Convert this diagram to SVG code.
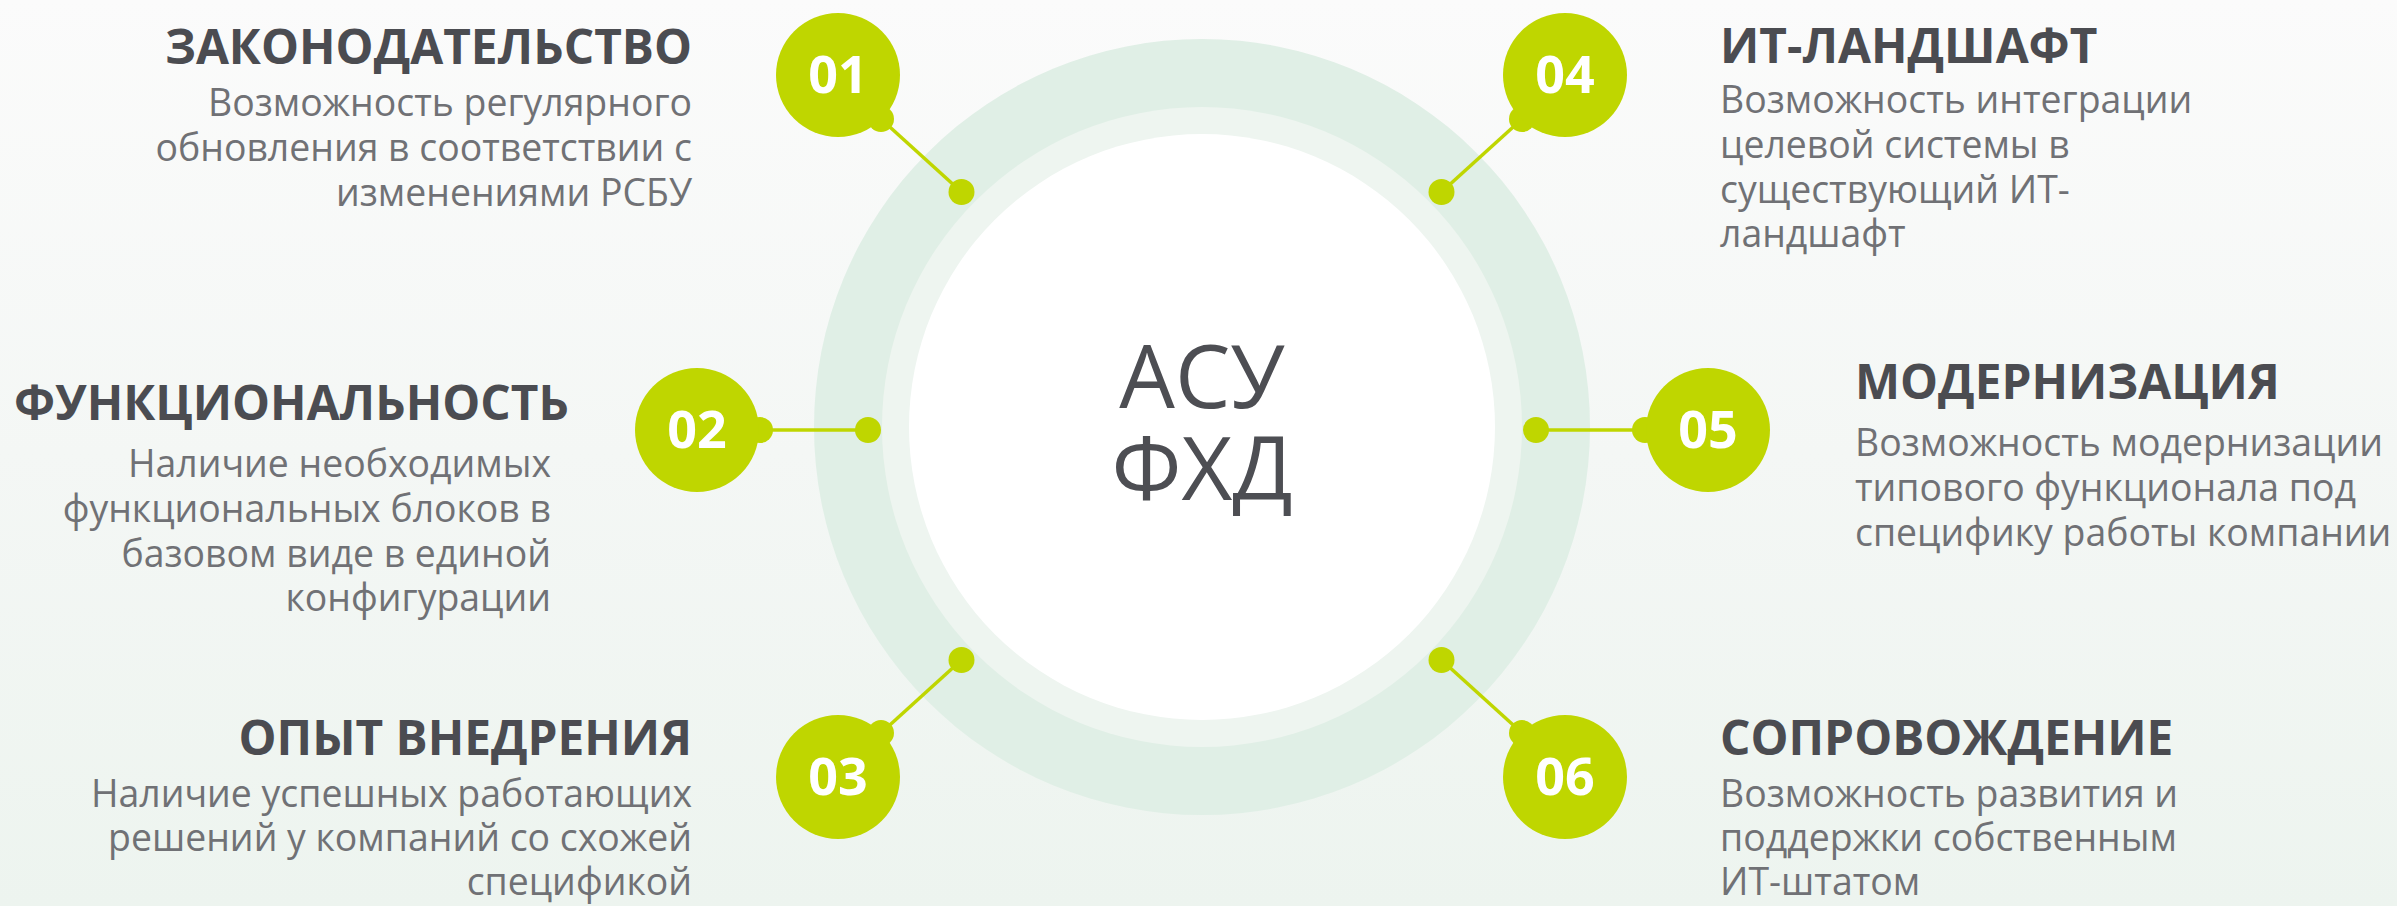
<svg xmlns="http://www.w3.org/2000/svg" width="2397" height="906" viewBox="0 0 2397 906">
  <defs>
    <linearGradient id="bg" x1="0" y1="0" x2="0" y2="1">
      <stop offset="0" stop-color="#fbfbfb"/>
      <stop offset="0.5" stop-color="#f4f7f5"/>
      <stop offset="1" stop-color="#edf4ef"/>
    </linearGradient>
    <style>
      .title { font-family: "Open Sans", "Noto Sans", "DejaVu Sans", sans-serif; font-weight: 700; font-size: 47.8px; fill: #4b4c51; }
      .body { font-family: "Open Sans", "Noto Sans", "DejaVu Sans", sans-serif; font-weight: 400; font-size: 37.4px; fill: #707175; }
      .num { font-family: "Open Sans", "Noto Sans", "DejaVu Sans", sans-serif; font-weight: 700; font-size: 52px; fill: #ffffff; text-anchor: middle; }
      .center { font-family: "Open Sans", "Noto Sans", "DejaVu Sans", sans-serif; font-weight: 400; font-size: 88px; fill: #4d4e53; text-anchor: middle; }
      .badge { fill: #bfd600; }
      .dot { fill: #bfd600; }
      .link { stroke: #bfd600; stroke-width: 3.5; fill: none; }
      .r { text-anchor: end; }
      .l { text-anchor: start; }
    </style>
  </defs>

  <rect x="0" y="0" width="2397" height="906" fill="url(#bg)"/>

  <g id="hub">
    <circle cx="1202" cy="427" r="388" fill="#e0efe6"/>
    <circle cx="1202" cy="427" r="320" fill="#eef5f0"/>
    <circle cx="1202" cy="427" r="293" fill="#ffffff"/>
    <text class="center" x="1202" y="408">АСУ</text>
    <text class="center" x="1202" y="500">ФХД</text>
  </g>

  <g id="connectors">
    <line class="link" x1="881" y1="119" x2="961.5" y2="192"/>
    <circle class="dot" cx="881" cy="119" r="13"/>
    <circle class="dot" cx="961.5" cy="192" r="13"/>

    <line class="link" x1="760" y1="430" x2="868" y2="430"/>
    <circle class="dot" cx="760" cy="430" r="13"/>
    <circle class="dot" cx="868" cy="430" r="13"/>

    <line class="link" x1="881" y1="733" x2="961.5" y2="660"/>
    <circle class="dot" cx="881" cy="733" r="13"/>
    <circle class="dot" cx="961.5" cy="660" r="13"/>

    <line class="link" x1="1522" y1="119" x2="1441.5" y2="192"/>
    <circle class="dot" cx="1522" cy="119" r="13"/>
    <circle class="dot" cx="1441.5" cy="192" r="13"/>

    <line class="link" x1="1645" y1="430" x2="1536" y2="430"/>
    <circle class="dot" cx="1645" cy="430" r="13"/>
    <circle class="dot" cx="1536" cy="430" r="13"/>

    <line class="link" x1="1522" y1="733" x2="1441.5" y2="660"/>
    <circle class="dot" cx="1522" cy="733" r="13"/>
    <circle class="dot" cx="1441.5" cy="660" r="13"/>
  </g>

  <g id="item-01">
    <circle class="badge" cx="838" cy="75" r="62"/>
    <text class="num" x="838" y="93">01</text>
    <text class="title r" x="692" y="64">ЗАКОНОДАТЕЛЬСТВО</text>
    <text class="body r" x="692" y="116">Возможность регулярного</text>
    <text class="body r" x="692" y="161">обновления в соответствии с</text>
    <text class="body r" x="692" y="206">изменениями РСБУ</text>
  </g>

  <g id="item-02">
    <circle class="badge" cx="697" cy="430" r="62"/>
    <text class="num" x="697" y="448">02</text>
    <text class="title r" x="569" y="420">ФУНКЦИОНАЛЬНОСТЬ</text>
    <text class="body r" x="551" y="477">Наличие необходимых</text>
    <text class="body r" x="551" y="522">функциональных блоков в</text>
    <text class="body r" x="551" y="567">базовом виде в единой</text>
    <text class="body r" x="551" y="611">конфигурации</text>
  </g>

  <g id="item-03">
    <circle class="badge" cx="838" cy="777" r="62"/>
    <text class="num" x="838" y="795">03</text>
    <text class="title r" x="692" y="755">ОПЫТ ВНЕДРЕНИЯ</text>
    <text class="body r" x="692" y="807">Наличие успешных работающих</text>
    <text class="body r" x="692" y="851">решений у компаний со схожей</text>
    <text class="body r" x="692" y="895">спецификой</text>
  </g>

  <g id="item-04">
    <circle class="badge" cx="1565" cy="75" r="62"/>
    <text class="num" x="1565" y="93">04</text>
    <text class="title l" x="1720" y="63">ИТ-ЛАНДШАФТ</text>
    <text class="body l" x="1720" y="113">Возможность интеграции</text>
    <text class="body l" x="1720" y="158">целевой системы в</text>
    <text class="body l" x="1720" y="203">существующий ИТ-</text>
    <text class="body l" x="1720" y="247">ландшафт</text>
  </g>

  <g id="item-05">
    <circle class="badge" cx="1708" cy="430" r="62"/>
    <text class="num" x="1708" y="448">05</text>
    <text class="title l" x="1855" y="399">МОДЕРНИЗАЦИЯ</text>
    <text class="body l" x="1855" y="456">Возможность модернизации</text>
    <text class="body l" x="1855" y="501">типового функционала под</text>
    <text class="body l" x="1855" y="546">специфику работы компании</text>
  </g>

  <g id="item-06">
    <circle class="badge" cx="1565" cy="777" r="62"/>
    <text class="num" x="1565" y="795">06</text>
    <text class="title l" x="1720" y="755">СОПРОВОЖДЕНИЕ</text>
    <text class="body l" x="1720" y="807">Возможность развития и</text>
    <text class="body l" x="1720" y="851">поддержки собственным</text>
    <text class="body l" x="1720" y="895">ИТ-штатом</text>
  </g>
</svg>
